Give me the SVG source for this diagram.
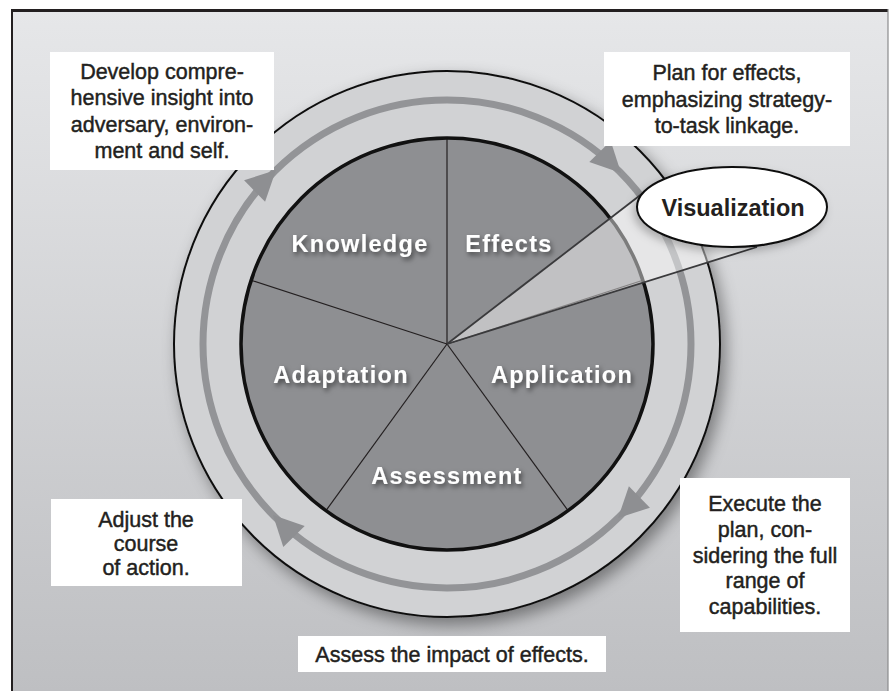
<svg xmlns="http://www.w3.org/2000/svg" width="890" height="691" viewBox="0 0 890 691">
  <defs>
    <linearGradient id="bg" x1="0" y1="0" x2="0" y2="1">
      <stop offset="0" stop-color="#e6e7e9"/>
      <stop offset="1" stop-color="#bebfc2"/>
    </linearGradient>
    <filter id="ringShadow" x="-20%" y="-20%" width="150%" height="150%">
      <feDropShadow dx="5" dy="7" stdDeviation="8" flood-color="#000" flood-opacity="0.4"/>
    </filter>
    <filter id="labelShadow" x="-20%" y="-40%" width="150%" height="200%">
      <feDropShadow dx="2" dy="3" stdDeviation="2.5" flood-color="#000" flood-opacity="0.55"/>
    </filter>
    <filter id="ovalShadow" x="-20%" y="-30%" width="140%" height="170%">
      <feDropShadow dx="-3" dy="4" stdDeviation="4" flood-color="#000" flood-opacity="0.25"/>
    </filter>
    <!-- one arrowhead at 12 o'clock on the cycle track, pointing clockwise -->
    <path id="arrowHead" d="M447,100 L417,85 L417,115 Z"/>
  </defs>
  <style>
    .box{fill:#ffffff}
    .note{font-family:"Liberation Sans",Arial,sans-serif;font-size:21.5px;fill:#231f20;stroke:#231f20;stroke-width:0.45;text-anchor:middle}
    .seg{font-family:"Liberation Sans",Arial,sans-serif;font-weight:bold;font-size:23.5px;letter-spacing:1.3px;fill:#ffffff;text-anchor:middle;filter:url(#labelShadow)}
    .spoke{stroke:#231f20;stroke-width:1.2}
    .edge{stroke:#3a3a3c;stroke-width:1.8}
    .track{fill:none;stroke:#939497;stroke-width:7}
    .head{fill:#8e8f92}
  </style>

  <!-- page and frame -->
  <rect x="0" y="0" width="890" height="691" fill="#ffffff"/>
  <rect x="11" y="10" width="877" height="681" fill="url(#bg)"/>
  <line x1="11" y1="10.5" x2="888" y2="10.5" stroke="#231f20" stroke-width="3"/>
  <line x1="12" y1="9" x2="12" y2="691" stroke="#231f20" stroke-width="2"/>
  <line x1="888" y1="9" x2="888" y2="691" stroke="#8a8b8d" stroke-width="1.2"/>

  <!-- outer ring -->
  <circle cx="447" cy="344" r="273" fill="#d1d2d4" stroke="#111" stroke-width="2" filter="url(#ringShadow)"/>

  <!-- cycle arrows -->
  <g id="connectors">
    <circle class="track" cx="447" cy="344" r="244"/>
    <use href="#arrowHead" class="head" transform="rotate(-44.5 447 344)"/>
    <use href="#arrowHead" class="head" transform="rotate(45.5 447 344)"/>
    <use href="#arrowHead" class="head" transform="rotate(135.5 447 344)"/>
    <use href="#arrowHead" class="head" transform="rotate(225.5 447 344)"/>
  </g>

  <!-- five-part core -->
  <g id="core">
    <circle cx="447" cy="344" r="206" fill="#8e8f92"/>
    <line class="spoke" x1="447" y1="344" x2="447" y2="138"/>
    <line class="spoke" x1="447" y1="344" x2="251.1" y2="280.3"/>
    <line class="spoke" x1="447" y1="344" x2="325.9" y2="510.7"/>
    <line class="spoke" x1="447" y1="344" x2="568.1" y2="510.7"/>
    <line class="spoke" x1="447" y1="344" x2="642.9" y2="280.3" stroke-width="0.8"/>
    <circle cx="447" cy="344" r="206" fill="none" stroke="#111" stroke-width="3.5"/>
  </g>

  <!-- visualization beam -->
  <g id="beam">
    <polygon points="447,344 643,193 757,247" fill="#ffffff" fill-opacity="0.45"/>
    <line class="edge" x1="447" y1="344" x2="643" y2="193"/>
    <line class="edge" x1="447" y1="344" x2="757" y2="247"/>
  </g>

  <g id="knowledge"><text class="seg" x="360" y="252">Knowledge</text></g>
  <g id="effects"><text class="seg" x="509" y="252">Effects</text></g>
  <g id="adaptation"><text class="seg" x="341" y="383">Adaptation</text></g>
  <g id="application"><text class="seg" x="562" y="383">Application</text></g>
  <g id="assessment"><text class="seg" x="447" y="484">Assessment</text></g>

  <g id="visualization">
    <ellipse cx="732" cy="207" rx="95" ry="40" fill="#ffffff" stroke="#111" stroke-width="2" filter="url(#ovalShadow)"/>
    <text x="733" y="216" font-family="Liberation Sans, Arial, sans-serif" font-weight="bold" font-size="23.5" fill="#231f20" text-anchor="middle">Visualization</text>
  </g>

  <!-- notes -->
  <g id="note-knowledge">
    <rect class="box" x="50" y="52" width="224" height="118"/>
    <text class="note" x="162" y="78.5">Develop compre-</text>
    <text class="note" x="162" y="105">hensive insight into</text>
    <text class="note" x="162" y="131.5">adversary, environ-</text>
    <text class="note" x="162" y="158">ment and self.</text>
  </g>
  <g id="note-effects">
    <rect class="box" x="604" y="52" width="246" height="94"/>
    <text class="note" x="727" y="80">Plan for effects,</text>
    <text class="note" x="727" y="106.5">emphasizing strategy-</text>
    <text class="note" x="727" y="133">to-task linkage.</text>
  </g>
  <g id="note-application">
    <rect class="box" x="680" y="478" width="170" height="154"/>
    <text class="note" x="765" y="511">Execute the</text>
    <text class="note" x="765" y="537">plan, con-</text>
    <text class="note" x="765" y="562.5">sidering the full</text>
    <text class="note" x="765" y="588">range of</text>
    <text class="note" x="765" y="614">capabilities.</text>
  </g>
  <g id="note-adaptation">
    <rect class="box" x="51" y="499" width="191" height="87"/>
    <text class="note" x="146" y="527">Adjust the</text>
    <text class="note" x="146" y="551">course</text>
    <text class="note" x="146" y="575">of action.</text>
  </g>
  <g id="note-assessment">
    <rect class="box" x="298" y="636" width="308" height="36"/>
    <text class="note" x="452" y="662">Assess the impact of effects.</text>
  </g>
</svg>
